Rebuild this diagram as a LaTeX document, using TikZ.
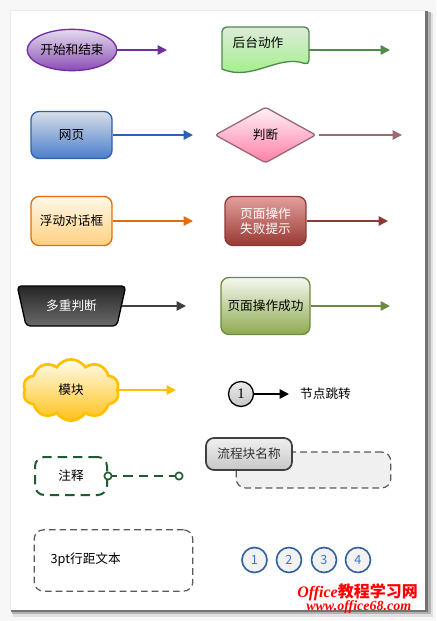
\documentclass[tikz,border=0pt]{standalone}
\usepackage{fontspec}
\setmainfont{Noto Sans CJK SC}
\newfontfamily\wmfont{Liberation Serif}
\newfontfamily\numfont{Liberation Serif}
\usetikzlibrary{shapes.geometric,shapes.symbols,arrows.meta}
\definecolor{purB}{HTML}{7030A0}
\definecolor{purT}{HTML}{E4DCEE}
\definecolor{purD}{HTML}{8A4CB4}
\definecolor{bluB}{HTML}{2E62AC}
\definecolor{bluT}{HTML}{D8DEE8}
\definecolor{bluD}{HTML}{4A7ECB}
\definecolor{orB}{HTML}{E46C0A}
\definecolor{orT}{HTML}{FFF8E8}
\definecolor{orD}{HTML}{FFD080}
\definecolor{dkT}{HTML}{262626}
\definecolor{dkD}{HTML}{6A6A6A}
\definecolor{dkA}{HTML}{404040}
\definecolor{clB}{HTML}{FFC000}
\definecolor{clT}{HTML}{FFFCEE}
\definecolor{clD}{HTML}{FFC21A}
\definecolor{ntG}{HTML}{1E5A32}
\definecolor{gyL}{HTML}{595959}
\definecolor{gnB}{HTML}{4E8A4E}
\definecolor{gnT}{HTML}{DDEBD8}
\definecolor{gnD}{HTML}{98F27E}
\definecolor{dmB}{HTML}{9B6B72}
\definecolor{dmT}{HTML}{FFF2F7}
\definecolor{dmD}{HTML}{FF7EA8}
\definecolor{rdB}{HTML}{8B3A36}
\definecolor{rdT}{HTML}{E3A09C}
\definecolor{rdD}{HTML}{993834}
\definecolor{olB}{HTML}{6D8A3E}
\definecolor{olT}{HTML}{F5F8EE}
\definecolor{olD}{HTML}{8EAA50}
\definecolor{nbB}{HTML}{2F5F9F}
\definecolor{nbT}{HTML}{3A78C8}
\definecolor{wmR}{HTML}{FF0000}
\begin{document}
\begin{tikzpicture}[x=0.75pt,y=-0.75pt,
  every node/.style={font=\fontsize{9.5pt}{11.5pt}\selectfont},
  conn/.style={line width=1.3pt,-{Triangle[length=7pt,width=7pt]}},
  rbox/.style={rectangle,rounded corners=6pt,line width=1pt,inner sep=0pt,align=center},
  dbox/.style={rectangle,rounded corners=7pt,draw=gyL,line width=0.9pt,dash pattern=on 5pt off 3pt},
  numc/.style={circle,draw=nbB,line width=1.2pt,fill=black!5,text=nbT,minimum size=18.75pt,inner sep=0pt},
  dot/.style={circle,draw=ntG,fill=white,line width=1.2pt,minimum size=5.5pt,inner sep=0pt}
]
\useasboundingbox (0,0) rectangle (436,621);
% background and page
\fill[black!3] (0,0) rectangle (436,621);
\fill[black!12] (13,13) rectangle (433,617);
\fill[black!30] (12,12) rectangle (431,614);
\fill[black!55] (11,11) rectangle (428,612);
\fill[white] (10,10) rectangle (425,610);
\draw[black!8,line width=0.4pt] (10,610) -- (10,10) -- (425,10);

% left column
\node[ellipse,draw=purB,line width=1pt,top color=purT,bottom color=purD,minimum width=60pt,minimum height=31pt,inner sep=0pt] (start) at (72,50) {开始和结束};
\coordinate (startE) at (167,50);
\draw[conn,purB] (start.east) -- (startE);

\node[rbox,draw=bluB,top color=bluT,bottom color=bluD,minimum width=60.75pt,minimum height=35.25pt] (web) at (71.5,135) {网页};
\coordinate (webE) at (193,135);
\draw[conn,bluB] (web.east) -- (webE);

\node[rbox,draw=orB,top color=orT,bottom color=orD,minimum width=60.75pt,minimum height=36.75pt] (dlg) at (71.5,221) {浮动对话框};
\coordinate (dlgE) at (193,221);
\draw[conn,orB] (dlg.east) -- (dlgE);

\node[trapezium,trapezium stretches=true,shape border rotate=180,trapezium angle=67,draw=black,line width=1pt,rounded corners=3pt,top color=dkT,bottom color=dkD,text=white,minimum width=81.75pt,minimum height=30pt,inner sep=0pt] (multi) at (71.5,306) {多重判断};
\coordinate (multiE) at (186,306);
\draw[conn,dkA] (multi.east) -- (multiE);

\node[cloud,cloud puffs=10,cloud puff arc=115,aspect=1.6,draw=clB,line width=2pt,top color=clT,bottom color=clD,minimum width=72pt,minimum height=46pt,inner sep=0pt] (mod) at (71,390) {模块};
\coordinate (modE) at (176,390);
\draw[conn,clB] (mod.east) -- (modE);

\node[rectangle,rounded corners=7pt,draw=ntG,line width=1.5pt,dash pattern=on 7pt off 4.5pt,minimum width=54pt,minimum height=28.5pt] (note) at (71,476) {注释};
\coordinate (noteE) at (179,476);
\draw[ntG,line width=1.5pt,dash pattern=on 7pt off 4.5pt] (note.east) -- (noteE);
\node[dot] (noteD1) at (note.east) {};
\node[dot] (noteD2) at (noteE) {};

\node[dbox,minimum width=119pt,minimum height=46pt] (txt) at (113.5,560.5) {};
\node[anchor=west] (txtL) at (46,560) {3pt行距文本};

% right column
\node[rectangle,minimum width=65.25pt,minimum height=20pt,inner sep=0pt] (bg) at (265.5,50) {};
\draw[gnB,line width=1pt,top color=gnT,bottom color=gnD]
  (222,69) {[rounded corners=3.5pt] -- (222,27) -- (309,27) -- (309,65)}
  .. controls (278,54) and (252,82) .. (222,69) -- cycle;
\node (bgT) at (258,43) {后台动作};
\coordinate (bgE) at (390,50);
\draw[conn,gnB] (bg.east) -- (bgE);

\node[diamond,draw=dmB,line width=1pt,rounded corners=2pt,top color=dmT,bottom color=dmD,minimum width=75.75pt,minimum height=42pt,inner sep=0pt] (judge) at (265.5,135) {判断};
\coordinate (judgeE) at (402,135);
\draw[conn,dmB] ([xshift=2pt]judge.east) -- (judgeE);

\node[rbox,draw=rdB,top color=rdT,bottom color=rdD,text=white,minimum width=60.75pt,minimum height=36.75pt] (fail) at (265.5,221) {页面操作\\失败提示};
\coordinate (failE) at (388,221);
\draw[conn,rdB] (fail.east) -- (failE);

\node[rbox,draw=olB,top color=olT,bottom color=olD,minimum width=66.75pt,minimum height=42.75pt] (ok) at (265.5,306) {页面操作成功};
\coordinate (okE) at (390,306);
\draw[conn,olB] (ok.east) -- (okE);

\node[circle,draw=black,line width=1pt,top color=black!8,bottom color=black!22,minimum size=18.75pt,inner sep=0pt,font=\numfont\fontsize{11pt}{12pt}\selectfont] (jmp) at (241,394) {1};
\coordinate (jmpE) at (289,394);
\draw[conn,black] (jmp.east) -- (jmpE);
\node (jmpT) at (325.5,394) {节点跳转};

\node[dbox,fill=black!6,minimum width=116pt,minimum height=27pt] (grp) at (313.5,470) {};
\node[rectangle,rounded corners=6pt,draw=black!75,line width=1.3pt,top color=black!6,bottom color=black!22,text=black!80,minimum width=64.5pt,minimum height=24pt,inner sep=0pt] (grpT) at (249,454) {流程块名称};

\foreach \i/\x in {1/254.5,2/289,3/324,4/358}
  \node[numc] (n\i) at (\x,560) {\i};

% watermark
\node[anchor=west,text=wmR,inner sep=0pt,font=\fontsize{12pt}{13pt}\selectfont\bfseries] (wm1) at (297,592) {{\wmfont\itshape Office}教程学习网};
\node[anchor=west,text=wmR,inner sep=0pt,font=\wmfont\bfseries\itshape\fontsize{10.5pt}{11pt}\selectfont] (wm2) at (306,607) {www.office68.com};
\end{tikzpicture}
\end{document}
